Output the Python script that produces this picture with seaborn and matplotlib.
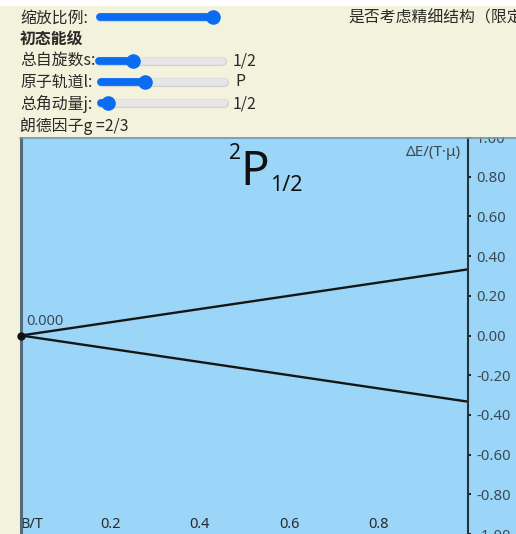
import numpy as np
import pandas as pd
import matplotlib
matplotlib.use("Agg")
import matplotlib.pyplot as plt
from matplotlib.patches import Rectangle
from matplotlib.lines import Line2D
import seaborn as sns

# ---- data -------------------------------------------------------------
field_B = [0.0, 1.0]                       # magnetic field, T
level_up = [0.0, 1 / 3]                    # m_j = +1/2 branch, ΔE/(T·μ)
level_down = [0.0, -1 / 3]                 # m_j = -1/2 branch
start_value = 0.0
x_ticks = [0.0, 0.2, 0.4, 0.6, 0.8]
x_tick_labels = ["B/T", "0.2", "0.4", "0.6", "0.8"]
y_ticks = [-1.0, -0.8, -0.6, -0.4, -0.2, 0.0, 0.2, 0.4, 0.6, 0.8, 1.0]
y_tick_labels = ["-1.00", "-0.80", "-0.60", "-0.40", "-0.20", "0.00",
                 "0.20", "0.40", "0.60", "0.80", "1.00"]

# control panel state
spin_label, spin_pos = "1/2", 0.28
orbital_label, orbital_pos = "P", 0.36
j_label, j_pos = "1/2", 0.06
lande_text = "朗德因子g =2/3"

# ---- style --------------------------------------------------------------
sns.set_style("white")
plt.rcParams["font.family"] = ["Noto Sans", "Noto Sans CJK SC", "DejaVu Sans"]
plt.rcParams["axes.unicode_minus"] = False
CJK = ["Noto Sans CJK SC", "DejaVu Sans"]

BEIGE = "#f3f2dc"
BLUE = "#9bd6f8"
SLIDER = "#0a6cf0"
TRACK = "#e6e6e6"
TXT = "#2a2a2a"
AXTXT = "#3c4a56"

W, H = 516, 534
fig = plt.figure(figsize=(W / 100, H / 100), dpi=100)
fig.patch.set_facecolor(BEIGE)


def fx(x):
    return x / W


def fy(y):
    return 1 - y / H


# plotting surface extends past the right axis
fig.add_artist(Rectangle((fx(20), 0), 1 - fx(20), fy(137), transform=fig.transFigure,
                         facecolor=BLUE, edgecolor="none", zorder=-1))

ax = fig.add_axes([fx(21), 0, fx(468) - fx(21), fy(137)])
ax.set_facecolor("none")

df = pd.DataFrame({
    "B": field_B + field_B,
    "dE": level_up + level_down,
    "level": ["+1/2"] * len(field_B) + ["-1/2"] * len(field_B),
})
sns.lineplot(data=df, x="B", y="dE", hue="level",
             palette={"+1/2": "#161616", "-1/2": "#161616"},
             linewidth=1.7, legend=False, ax=ax)
ax.plot([0.0], [start_value], marker="o", markersize=5, color="#111111",
        clip_on=False, zorder=5)
ax.text(0.012, start_value + 0.035, f"{start_value:.3f}", fontsize=10.5,
        color=AXTXT, ha="left", va="bottom")

ax.set_xlim(0, 1)
ax.set_ylim(-1, 1)
ax.set_xlabel("")
ax.set_ylabel("")

ax.set_xticks(x_ticks)
ax.set_xticklabels(x_tick_labels, fontsize=10.5, color=TXT)
ax.get_xticklabels()[0].set_ha("left")
ax.tick_params(axis="x", direction="in", length=4, width=1.5, color="#222222",
               pad=-12.5)

ax.yaxis.tick_right()
ax.set_yticks(y_ticks)
ax.set_yticklabels(y_tick_labels, fontsize=10.7, color=AXTXT)
ax.tick_params(axis="y", direction="out", length=2.2, width=1.5, color="#222222",
               pad=3.5)

for side in ("top", "bottom"):
    ax.spines[side].set_visible(False)
ax.spines["right"].set_color("#26333c")
ax.spines["right"].set_linewidth(1.5)
ax.spines["left"].set_color("#56697a")
ax.spines["left"].set_linewidth(2.2)

# term symbol 2P_{1/2}
fig.text(fx(255), fy(185), "P", fontsize=34, color="#111111", ha="center",
         va="baseline", zorder=8)
fig.text(fx(229.5), fy(159), "2", fontsize=15, color="#111111", ha="left",
         va="baseline", zorder=8)
fig.text(fx(270), fy(191), "1/2", fontsize=15.5, color="#111111", ha="left",
         va="baseline", zorder=8)
fig.text(fx(461), fy(156), "ΔE/(T·μ)", fontsize=11, color=AXTXT, ha="right",
         va="baseline", zorder=8)

# ---- control panel above the plot ---------------------------------------
fig.add_artist(Rectangle((0, fy(137)), 1, 137 / H, transform=fig.transFigure,
                         facecolor=BEIGE, edgecolor="none", zorder=5))
fig.add_artist(Rectangle((0, fy(6)), 1, 6 / H, transform=fig.transFigure,
                         facecolor="white", edgecolor="none", zorder=5.5))
fig.add_artist(Line2D([fx(20), 1], [fy(137.5)] * 2, transform=fig.transFigure,
                      color="#7399b3", linewidth=1.2, zorder=6))


def slider(x0, x1, y, frac):
    knob = x0 + (x1 - x0) * frac
    fig.add_artist(Line2D([fx(x0), fx(x1)], [fy(y)] * 2, transform=fig.transFigure,
                          color="#d2d2d2", linewidth=6.6, solid_capstyle="round",
                          zorder=6))
    fig.add_artist(Line2D([fx(x0), fx(x1)], [fy(y)] * 2, transform=fig.transFigure,
                          color=TRACK, linewidth=5.4, solid_capstyle="round",
                          zorder=6.1))
    fig.add_artist(Line2D([fx(x0), fx(knob)], [fy(y)] * 2, transform=fig.transFigure,
                          color=SLIDER, linewidth=5.6, solid_capstyle="round",
                          zorder=6.2))
    fig.add_artist(Line2D([fx(knob)], [fy(y)], transform=fig.transFigure,
                          marker="o", markersize=10.5, color=SLIDER,
                          markeredgewidth=0, zorder=6.3))


def label(x, y, s, **kw):
    fig.text(fx(x), fy(y), s, fontsize=11.4, color=TXT, ha="left", va="center",
             family=CJK, zorder=7, **kw)


label(20, 18, "缩放比例:")
slider(100, 213, 17, 1.0)
label(348, 18, "是否考虑精细结构（限定")
label(20, 40, "初态能级", fontweight="bold")
label(20, 61, "总自旋数s:")
slider(99, 222, 61, spin_pos)
label(233, 61, spin_label)
label(20, 82, "原子轨道l:")
slider(101, 224, 82, orbital_pos)
label(235, 82, orbital_label)
label(20, 104, "总角动量j:")
slider(101, 224, 103, j_pos)
label(233, 104, j_label)
label(20, 126, lande_text)

fig.savefig("out.png", dpi=100, facecolor=fig.get_facecolor())
